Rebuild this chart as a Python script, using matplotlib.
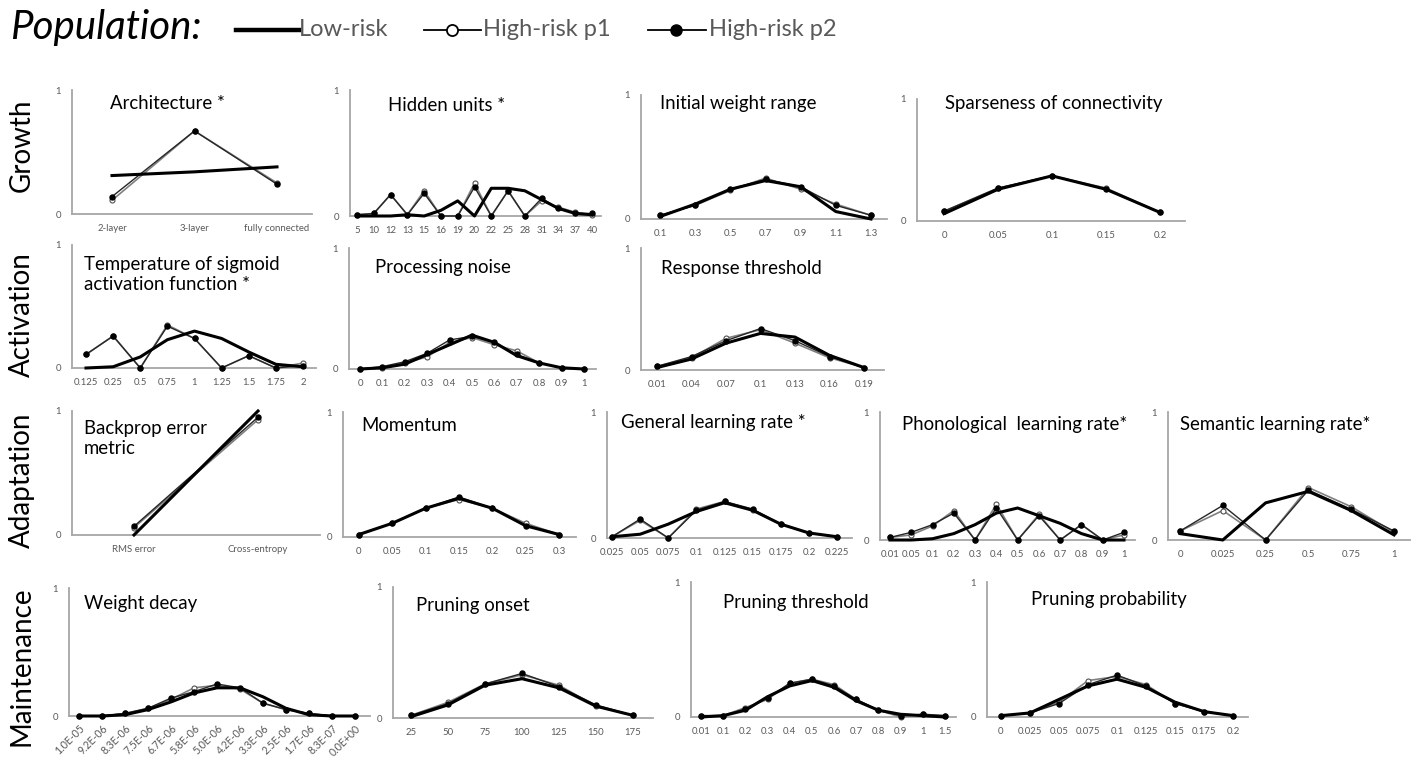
import numpy as np
import matplotlib
matplotlib.use("Agg")
import matplotlib.pyplot as plt
from matplotlib.lines import Line2D

# ================= CONFIG =================
FIG_W, FIG_H = 1423, 760
DPI = 100
OUT_FILE = "out.png"

LOW_COLOR = "#000000"
P1_COLOR = "#808080"
P2_COLOR = "#262626"
AXIS_COLOR = "#A6A6A6"
TICK_COLOR = "#595959"

plt.rcParams['font.family'] = ['Lato', 'DejaVu Sans']

# ================= DATA =================
# Growth
arch_x = ['2-layer', '3-layer', 'fully connected']
arch_low = [0.31, 0.34, 0.38]
arch_p1 = [0.11, 0.67, 0.25]
arch_p2 = [0.14, 0.67, 0.24]

hidden_x = ['5', '10', '12', '13', '15', '16', '19', '20', '22', '25', '28', '31', '34', '37', '40']
hidden_low = [0.0, 0.0, 0.0, 0.01, 0.0, 0.045, 0.12, 0.0, 0.22, 0.22, 0.2, 0.13, 0.06, 0.02, 0.01]
hidden_p1 = [0.01, 0.02, 0.17, 0.01, 0.2, 0.0, 0.0, 0.26, 0.0, 0.2, 0.0, 0.12, 0.07, 0.03, 0.01]
hidden_p2 = [0.01, 0.02, 0.17, 0.01, 0.18, 0.0, 0.0, 0.23, 0.0, 0.2, 0.0, 0.14, 0.06, 0.02, 0.02]

initw_x = ['0.1', '0.3', '0.5', '0.7', '0.9', '1.1', '1.3']
initw_low = [0.02, 0.12, 0.24, 0.31, 0.26, 0.06, 0.0]
initw_p1 = [0.03, 0.11, 0.23, 0.33, 0.24, 0.12, 0.03]
initw_p2 = [0.03, 0.11, 0.24, 0.32, 0.26, 0.11, 0.03]

sparse_x = ['0', '0.05', '0.1', '0.15', '0.2']
sparse_low = [0.06, 0.26, 0.37, 0.26, 0.07]
sparse_p1 = [0.08, 0.27, 0.37, 0.27, 0.07]
sparse_p2 = [0.08, 0.27, 0.37, 0.26, 0.07]

# Activation
temp_x = ['0.125', '0.25', '0.5', '0.75', '1', '1.25', '1.5', '1.75', '2']
temp_low = [0.0, 0.01, 0.09, 0.23, 0.3, 0.24, 0.13, 0.03, 0.01]
temp_p1 = [0.11, 0.26, 0.0, 0.35, 0.24, 0.0, 0.1, 0.0, 0.04]
temp_p2 = [0.11, 0.26, 0.0, 0.34, 0.24, 0.0, 0.1, 0.0, 0.02]

noise_x = ['0', '0.1', '0.2', '0.3', '0.4', '0.5', '0.6', '0.7', '0.8', '0.9', '1']
noise_low = [0.0, 0.01, 0.04, 0.12, 0.2, 0.28, 0.22, 0.11, 0.05, 0.01, 0.0]
noise_p1 = [0.0, 0.01, 0.05, 0.1, 0.22, 0.26, 0.2, 0.15, 0.05, 0.01, 0.0]
noise_p2 = [0.0, 0.02, 0.06, 0.13, 0.24, 0.27, 0.22, 0.12, 0.05, 0.01, 0.0]

thresh_x = ['0.01', '0.04', '0.07', '0.1', '0.13', '0.16', '0.19']
thresh_low = [0.02, 0.09, 0.22, 0.3, 0.27, 0.12, 0.02]
thresh_p1 = [0.03, 0.1, 0.26, 0.33, 0.22, 0.1, 0.02]
thresh_p2 = [0.03, 0.11, 0.24, 0.34, 0.24, 0.11, 0.02]

# Adaptation
backprop_x = ['RMS error', 'Cross-entropy']
backprop_low = [0.0, 1.0]
backprop_p1 = [0.06, 0.93]
backprop_p2 = [0.07, 0.95]

momentum_x = ['0', '0.05', '0.1', '0.15', '0.2', '0.25', '0.3']
momentum_low = [0.02, 0.11, 0.23, 0.31, 0.23, 0.09, 0.02]
momentum_p1 = [0.02, 0.11, 0.23, 0.3, 0.23, 0.11, 0.02]
momentum_p2 = [0.02, 0.11, 0.23, 0.32, 0.23, 0.09, 0.02]

genlr_x = ['0.025', '0.05', '0.075', '0.1', '0.125', '0.15', '0.175', '0.2', '0.225']
genlr_low = [0.01, 0.03, 0.11, 0.21, 0.28, 0.22, 0.11, 0.04, 0.01]
genlr_p1 = [0.01, 0.14, 0.0, 0.23, 0.29, 0.22, 0.11, 0.04, 0.01]
genlr_p2 = [0.01, 0.15, 0.0, 0.22, 0.29, 0.23, 0.11, 0.04, 0.01]

phon_x = ['0.01', '0.05', '0.1', '0.2', '0.3', '0.4', '0.5', '0.6', '0.7', '0.8', '0.9', '1']
phon_low = [0.0, 0.0, 0.01, 0.05, 0.12, 0.21, 0.25, 0.19, 0.13, 0.05, 0.0, 0.0]
phon_p1 = [0.02, 0.04, 0.11, 0.23, 0.0, 0.28, 0.0, 0.2, 0.0, 0.12, 0.0, 0.04]
phon_p2 = [0.02, 0.06, 0.12, 0.21, 0.0, 0.25, 0.0, 0.19, 0.0, 0.12, 0.0, 0.06]

sem_x = ['0', '0.025', '0.25', '0.5', '0.75', '1']
sem_low = [0.05, 0.0, 0.29, 0.38, 0.23, 0.04]
sem_p1 = [0.07, 0.23, 0.0, 0.41, 0.26, 0.06]
sem_p2 = [0.07, 0.27, 0.0, 0.39, 0.24, 0.07]

# Maintenance
decay_x = ['1.0E-05', '9.2E-06', '8.3E-06', '7.5E-06', '6.7E-06', '5.8E-06', '5.0E-06',
           '4.2E-06', '3.3E-06', '2.5E-06', '1.7E-06', '8.3E-07', '0.0E+00']
decay_low = [0.0, 0.0, 0.01, 0.05, 0.11, 0.18, 0.22, 0.22, 0.15, 0.06, 0.01, 0.0, 0.0]
decay_p1 = [0.0, 0.0, 0.02, 0.06, 0.13, 0.22, 0.24, 0.21, 0.1, 0.05, 0.02, 0.0, 0.0]
decay_p2 = [0.0, 0.0, 0.02, 0.06, 0.14, 0.19, 0.25, 0.22, 0.1, 0.05, 0.02, 0.0, 0.0]

onset_x = ['25', '50', '75', '100', '125', '150', '175']
onset_low = [0.01, 0.1, 0.25, 0.3, 0.23, 0.09, 0.02]
onset_p1 = [0.02, 0.12, 0.26, 0.33, 0.25, 0.09, 0.02]
onset_p2 = [0.02, 0.11, 0.26, 0.34, 0.24, 0.1, 0.02]

prthr_x = ['0.01', '0.1', '0.2', '0.3', '0.4', '0.5', '0.6', '0.7', '0.8', '0.9', '1', '1.5']
prthr_low = [0.0, 0.01, 0.05, 0.15, 0.23, 0.27, 0.22, 0.12, 0.05, 0.02, 0.01, 0.0]
prthr_p1 = [0.01, 0.01, 0.07, 0.13, 0.25, 0.28, 0.24, 0.13, 0.05, 0.0, 0.02, 0.01]
prthr_p2 = [0.01, 0.01, 0.06, 0.14, 0.25, 0.28, 0.23, 0.13, 0.05, 0.01, 0.02, 0.01]

prob_x = ['0', '0.025', '0.05', '0.075', '0.1', '0.125', '0.15', '0.175', '0.2']
prob_low = [0.01, 0.03, 0.13, 0.23, 0.28, 0.22, 0.11, 0.04, 0.01]
prob_p1 = [0.01, 0.03, 0.11, 0.27, 0.3, 0.24, 0.1, 0.04, 0.01]
prob_p2 = [0.01, 0.03, 0.1, 0.24, 0.31, 0.23, 0.1, 0.04, 0.01]

# ================= LAYOUT =================
# pixel box per panel: axis left, axis right, first category, last category, top, bottom
# plus title position in axes fractions
LAYOUT = {
    'arch':     ((72, 312, 112, 277, 90, 214), (0.16, 0.89)),
    'hidden':   ((350, 601, 357, 592, 90, 216), (0.15, 0.88)),
    'initw':    ((641, 887, 660, 871, 95, 219), (0.077, 0.93)),
    'sparse':   ((917, 1185, 944, 1160, 99, 221), (0.104, 0.96)),
    'temp':     ((72, 316, 86, 303, 245, 368), (0.05, 0.76)),
    'noise':    ((349, 596, 360, 584, 248, 369), (0.107, 0.835)),
    'thresh':   ((641, 884, 657, 864, 248, 370), (0.082, 0.836)),
    'backprop': ((72, 320, 134, 258, 411, 535), (0.048, 0.778)),
    'momentum': ((343, 576, 359, 559, 412, 537), (0.08, 0.89)),
    'genlr':    ((607, 852, 612, 837, 412, 538), (0.057, 0.92)),
    'phon':     ((880, 1135, 890, 1124, 412, 540), (0.086, 0.90)),
    'sem':      ((1168, 1410, 1180, 1394, 412, 540), (0.05, 0.90)),
    'decay':    ((69, 370, 79, 355, 588, 716), (0.05, 0.875)),
    'onset':    ((393, 653, 411, 633, 587, 718), (0.088, 0.86)),
    'prthr':    ((691, 956, 701, 945, 582, 717), (0.12, 0.845)),
    'prob':     ((987, 1248, 1001, 1233, 582, 717), (0.17, 0.867)),
}

PANELS = [
    ('arch', 'Architecture *', arch_x, arch_low, arch_p1, arch_p2),
    ('hidden', 'Hidden units *', hidden_x, hidden_low, hidden_p1, hidden_p2),
    ('initw', 'Initial weight range', initw_x, initw_low, initw_p1, initw_p2),
    ('sparse', 'Sparseness of connectivity', sparse_x, sparse_low, sparse_p1, sparse_p2),
    ('temp', 'Temperature of sigmoid\nactivation function *', temp_x, temp_low, temp_p1, temp_p2),
    ('noise', 'Processing noise', noise_x, noise_low, noise_p1, noise_p2),
    ('thresh', 'Response threshold', thresh_x, thresh_low, thresh_p1, thresh_p2),
    ('backprop', 'Backprop error\nmetric', backprop_x, backprop_low, backprop_p1, backprop_p2),
    ('momentum', 'Momentum', momentum_x, momentum_low, momentum_p1, momentum_p2),
    ('genlr', 'General learning rate *', genlr_x, genlr_low, genlr_p1, genlr_p2),
    ('phon', 'Phonological  learning rate*', phon_x, phon_low, phon_p1, phon_p2),
    ('sem', 'Semantic learning rate*', sem_x, sem_low, sem_p1, sem_p2),
    ('decay', 'Weight decay', decay_x, decay_low, decay_p1, decay_p2),
    ('onset', 'Pruning onset', onset_x, onset_low, onset_p1, onset_p2),
    ('prthr', 'Pruning threshold', prthr_x, prthr_low, prthr_p1, prthr_p2),
    ('prob', 'Pruning probability', prob_x, prob_low, prob_p1, prob_p2),
]

ROW_LABELS = [('Growth', 145), ('Activation', 315), ('Adaptation', 480), ('Maintenance', 666)]


def fx(px):
    return px / FIG_W


def fy(py):
    return 1 - py / FIG_H


fig = plt.figure(figsize=(FIG_W / DPI, FIG_H / DPI), dpi=DPI)


def draw_panel(key, title, cats, low, p1, p2):
    (left, right, first, last, top, bottom), (tx, ty) = LAYOUT[key]
    ax = fig.add_axes([fx(left), fy(bottom), (right - left) / FIG_W, (bottom - top) / FIG_H])
    n = len(cats)
    idx = np.arange(n)
    step = (last - first) / (n - 1)
    ax.set_xlim(-(first - left) / step, (n - 1) + (right - last) / step)
    ax.set_ylim(0, 1)

    ax.plot(idx, p1, color=P1_COLOR, lw=1.2, marker='o', ms=3.6, mfc='white',
            mec='#505050', mew=0.8, clip_on=False, zorder=3)
    ax.plot(idx, p2, color=P2_COLOR, lw=1.0, marker='o', ms=3.6, mfc='black',
            mec='black', clip_on=False, zorder=4)
    ax.plot(idx, low, color=LOW_COLOR, lw=2.2, clip_on=False, zorder=5)

    for side in ('top', 'right'):
        ax.spines[side].set_visible(False)
    for side in ('left', 'bottom'):
        ax.spines[side].set_color(AXIS_COLOR)
        ax.spines[side].set_linewidth(1.3)

    ax.set_yticks([0, 1])
    ax.set_yticklabels(['0', '1'])
    ax.set_xticks(idx)
    ax.tick_params(axis='both', length=0, labelsize=6.9, labelcolor=TICK_COLOR)
    ax.tick_params(axis='y', pad=8)
    if key == 'decay':
        # long scientific labels are set at an angle
        ax.set_xticklabels(cats, rotation=45, ha='right', va='top', rotation_mode='anchor',
                           fontsize=7.6)
        ax.tick_params(axis='x', pad=5)
    else:
        ax.set_xticklabels(cats)
        ax.tick_params(axis='x', pad=7)

    ax.text(tx, ty, title, transform=ax.transAxes, fontsize=13.4,
            ha='left', va='center', linespacing=1.2)
    return ax


for key, title, cats, low, p1, p2 in PANELS:
    draw_panel(key, title, cats, low, p1, p2)

# row labels
for label, yc in ROW_LABELS:
    fig.text(fx(22), fy(yc), label, rotation=90, fontsize=20, ha='center', va='center')

# header legend
fig.text(fx(10), fy(28), 'Population:', fontsize=29, style='italic', ha='left', va='center')

fig.add_artist(Line2D([fx(236), fx(299)], [fy(30), fy(30)], color=LOW_COLOR, lw=3.2,
                      transform=fig.transFigure))
fig.text(fx(299), fy(30), 'Low-risk', fontsize=17, color=TICK_COLOR, ha='left', va='center')

fig.add_artist(Line2D([fx(424), fx(481)], [fy(30), fy(30)], color='black', lw=1.3,
                      transform=fig.transFigure))
fig.add_artist(Line2D([fx(452)], [fy(30)], marker='o', ms=8, mfc='white', mec='black',
                      mew=1.3, transform=fig.transFigure))
fig.text(fx(483), fy(30), 'High-risk p1', fontsize=17, color=TICK_COLOR, ha='left', va='center')

fig.add_artist(Line2D([fx(648), fx(706)], [fy(30), fy(30)], color='black', lw=1.3,
                      transform=fig.transFigure))
fig.add_artist(Line2D([fx(676)], [fy(30)], marker='o', ms=8, mfc='black', mec='black',
                      transform=fig.transFigure))
fig.text(fx(709), fy(30), 'High-risk p2', fontsize=17, color=TICK_COLOR, ha='left', va='center')

fig.savefig(OUT_FILE, dpi=DPI, facecolor='white')
plt.close(fig)
